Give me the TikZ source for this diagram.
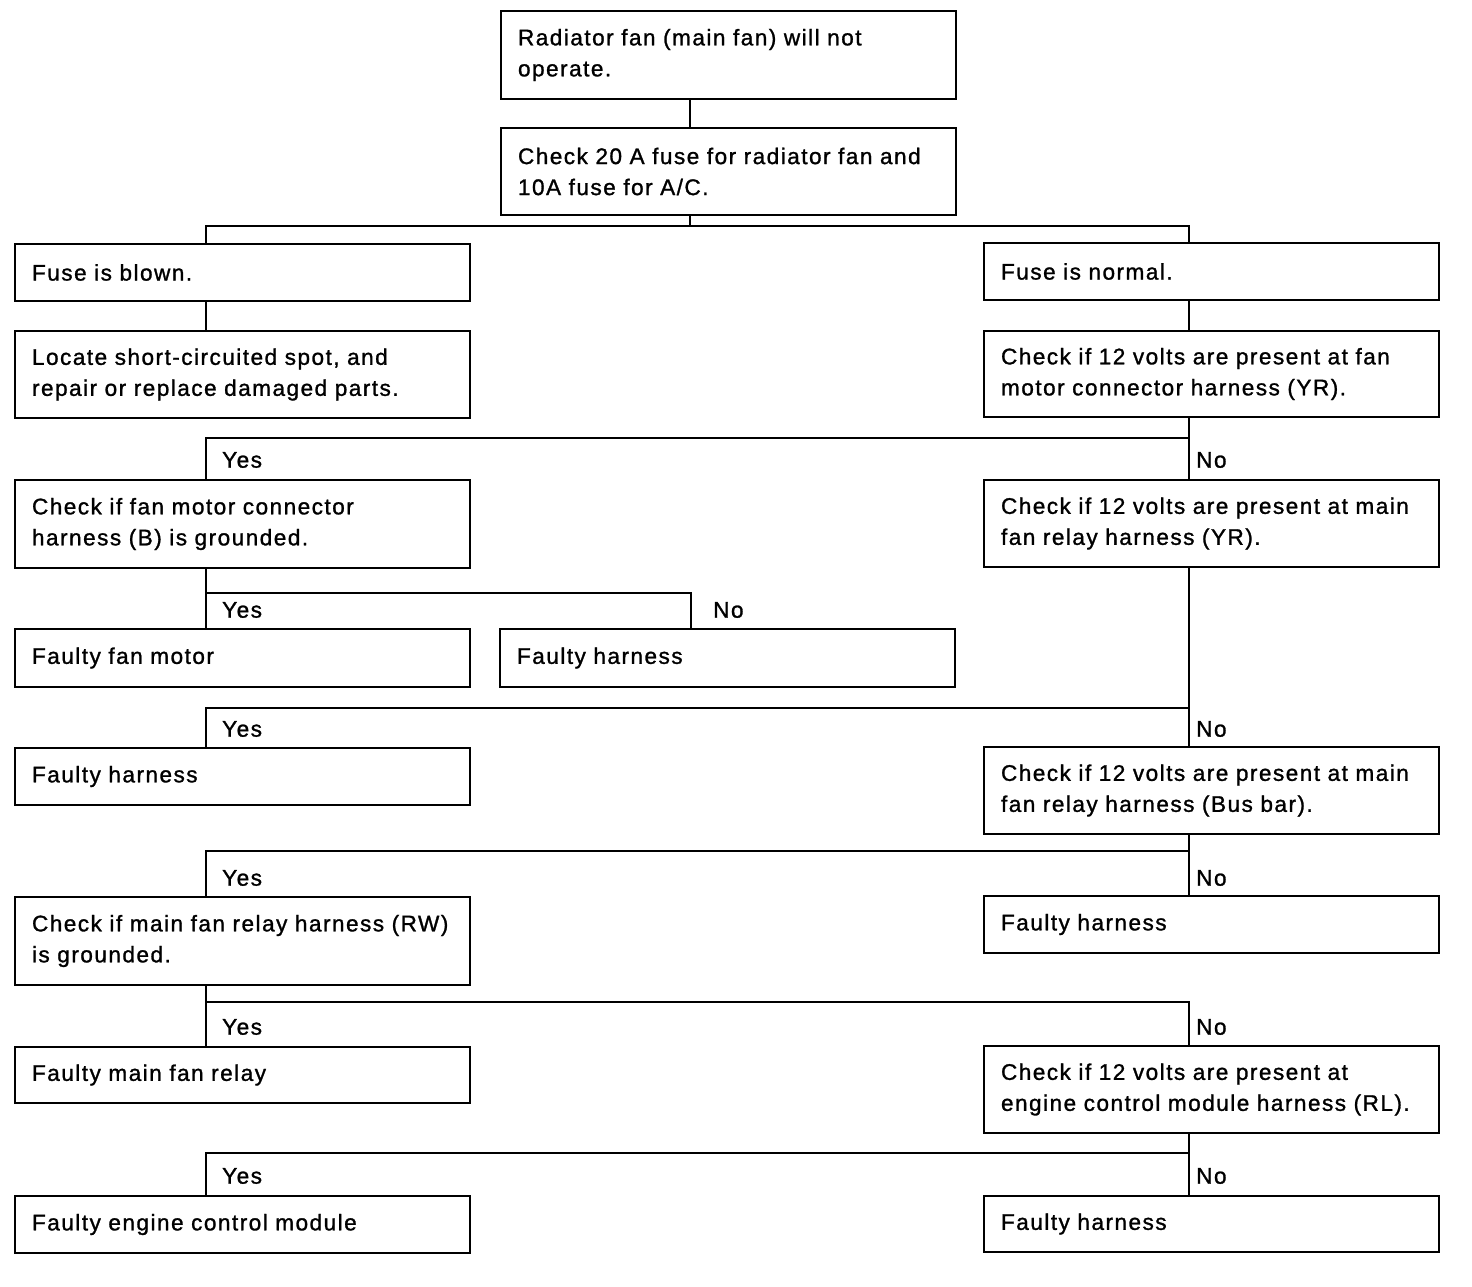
\documentclass[tikz,border=0pt]{standalone}
\usepackage{fontspec}
\setmainfont{Liberation Sans}[LetterSpace=6.5,FakeBold=1.2]
\begin{document}
\begin{tikzpicture}[x=1pt,y=-1pt,
  box/.style={draw, line width=2.6pt, outer sep=0pt, anchor=north west,
    text width=421pt, inner xsep=17pt, inner ysep=0pt, align=left,
    minimum height=#1, font=\fontsize{22.6}{31}\selectfont},
  box/.default=57pt,
  conn/.style={line width=2pt},
  lab/.style={anchor=west, inner sep=0pt, font=\fontsize{22.6}{31}\selectfont}]
\useasboundingbox (0,0) rectangle (1472,1286);
% columns
\coordinate (L) at (206,0);
\coordinate (R) at (1189,0);
\coordinate (M) at (690,0);
\coordinate (M2) at (691,0);
% boxes
\node[box=88pt] (b1) at (501,11) {Radiator fan (main fan) will not\\operate.};
\node[box=87pt] (b2) at (501,128) {Check 20 A fuse for radiator fan and\\10A fuse for A/C.};
\node[box] (b3) at (15,244) {Fuse is blown.};
\node[box] (b4) at (984,243) {Fuse is normal.};
\node[box=87pt] (b5) at (15,331) {Locate short-circuited spot, and\\repair or replace damaged parts.};
\node[box=86pt] (b6) at (984,331) {Check if 12 volts are present at fan\\motor connector harness (YR).};
\node[box=88pt] (b7) at (15,480) {Check if fan motor connector\\harness (B) is grounded.};
\node[box=87pt] (b8) at (984,480) {Check if 12 volts are present at main\\fan relay harness (YR).};
\node[box=58pt] (b9) at (15,629) {Faulty fan motor};
\node[box=58pt] (b10) at (500,629) {Faulty harness};
\node[box] (b11) at (15,748) {Faulty harness};
\node[box=87pt] (b12) at (984,747) {Check if 12 volts are present at main\\fan relay harness (Bus bar).};
\node[box=88pt] (b13) at (15,897) {Check if main fan relay harness (RW)\\is grounded.};
\node[box] (b14) at (984,896) {Faulty harness};
\node[box=56pt] (b15) at (15,1047) {Faulty main fan relay};
\node[box=87pt] (b16) at (984,1046) {Check if 12 volts are present at\\engine control module harness (RL).};
\node[box] (b17) at (15,1196) {Faulty engine control module};
\node[box=56pt] (b18) at (984,1196) {Faulty harness};
% junctions
\coordinate (j1) at (690,226);
\coordinate (j2) at (1189,438);
\coordinate (j3) at (206,593);
\coordinate (j4) at (1189,708);
\coordinate (j5) at (1189,851);
\coordinate (j6) at (206,1002);
\coordinate (j7) at (1189,1153);
% connectors
\draw[conn] (b1.south -| M) -- (b2.north -| M);
\draw[conn] (b2.south -| M) -- (j1);
\draw[conn] (b3.north -| L) |- (j1) -| (b4.north -| R);
\draw[conn] (b3.south -| L) -- (b5.north -| L);
\draw[conn] (b4.south -| R) -- (b6.north -| R);
\draw[conn] (b6.south -| R) -- (b8.north -| R);
\draw[conn] (j2) -| (b7.north -| L);
\draw[conn] (b7.south -| L) -- (b9.north -| L);
\draw[conn] (j3) -| (b10.north -| M2);
\draw[conn] (b8.south -| R) -- (b12.north -| R);
\draw[conn] (j4) -| (b11.north -| L);
\draw[conn] (b12.south -| R) -- (b14.north -| R);
\draw[conn] (j5) -| (b13.north -| L);
\draw[conn] (b13.south -| L) -- (b15.north -| L);
\draw[conn] (j6) -| (b16.north -| R);
\draw[conn] (b16.south -| R) -- (b18.north -| R);
\draw[conn] (j7) -| (b17.north -| L);
% labels
\node[lab] (y1) at (222,460) {Yes};
\node[lab] (n1) at (1196,460) {No};
\node[lab] (y2) at (222,610) {Yes};
\node[lab] (n2) at (713,610) {No};
\node[lab] (y3) at (222,729) {Yes};
\node[lab] (n3) at (1196,729) {No};
\node[lab] (y4) at (222,878) {Yes};
\node[lab] (n4) at (1196,878) {No};
\node[lab] (y5) at (222,1027) {Yes};
\node[lab] (n5) at (1196,1027) {No};
\node[lab] (y6) at (222,1176) {Yes};
\node[lab] (n6) at (1196,1176) {No};
\end{tikzpicture}
\end{document}
